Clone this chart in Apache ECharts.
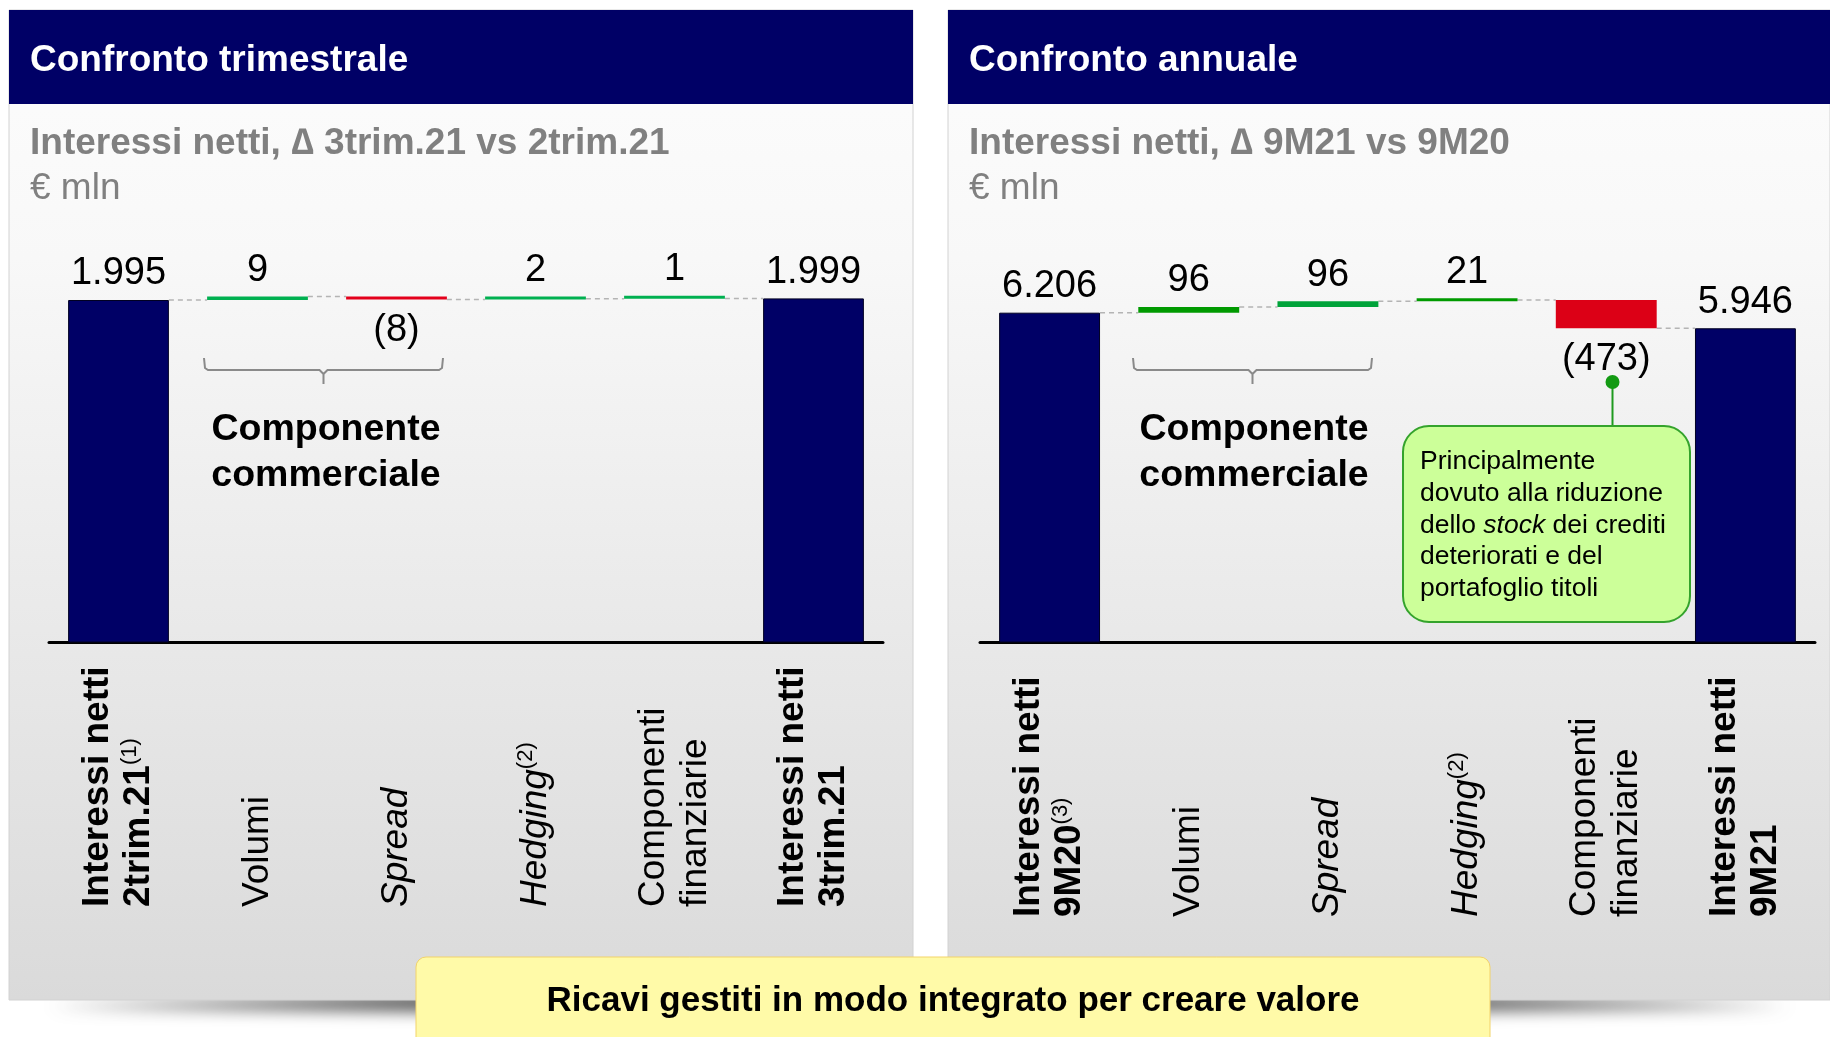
<!DOCTYPE html>
<html>
<head>
<meta charset="utf-8">
<script src="https://cdn.jsdelivr.net/npm/echarts@6/dist/echarts.min.js"></script>
<style>
  html, body { margin: 0; padding: 0; background: #fff; }
  #chart { width: 1830px; height: 1037px; }
</style>
</head>
<body>
<div id="chart"></div>
<script>
const FONT = "'Liberation Sans', Arial, sans-serif";

// Confronto trimestrale
const catsQ = ['Interessi netti\n2trim.21', 'Volumi', 'Spread', 'Hedging', 'Componenti\nfinanziarie', 'Interessi netti\n3trim.21'];
const notesQ = ['(1)', '', '', '(2)', '', ''];
const valsQ = [1995, 9, -8, 2, 1, 1999];

// Confronto annuale
const catsY = ['Interessi netti\n9M20', 'Volumi', 'Spread', 'Hedging', 'Componenti\nfinanziarie', 'Interessi netti\n9M21'];
const notesY = ['(3)', '', '', '(2)', '', ''];
const valsY = [6206, 96, 96, 21, -473, 5946];

// label style per category: b = bold, n = normal, i = italic
const catStyle = ['b', 'n', 'i', 'i', 'n', 'b'];

const colorsQ = ['#000066', '#00b050', '#e3001b', '#00b050', '#00b050', '#000066'];
const colorsY = ['#000066', '#009a00', '#00a33a', '#009a00', '#dc0016', '#000066'];

function fmtNum(v) {
    return String(v).replace(/\B(?=(\d{3})+(?!\d))/g, '.');
}

function build(vals) {
    let run = 0;
    const base = [], size = [], level = [];
    vals.forEach((v, i) => {
        if (i === 0 || i === vals.length - 1) { base.push(0); size.push(v); run = v; }
        else if (v >= 0) { base.push(run); size.push(v); run += v; }
        else { run += v; base.push(run); size.push(-v); }
        level.push(run);
    });
    return { base, size, level };
}

function catLabel(cats, notes) {
    return (value, idx) => {
        const st = catStyle[idx];
        const lines = cats[idx].split('\n').map(l => `{${st}|${l}}`);
        if (notes[idx]) lines[lines.length - 1] += `{sup|${notes[idx]}}`;
        return lines.join('\n');
    };
}

const labelRich = {
    b: { fontFamily: FONT, fontSize: 37, fontWeight: 'bold', color: '#000', lineHeight: 41 },
    n: { fontFamily: FONT, fontSize: 37, color: '#000', lineHeight: 42 },
    i: { fontFamily: FONT, fontSize: 37, fontStyle: 'italic', color: '#000', lineHeight: 42 },
    sup: { fontFamily: FONT, fontSize: 22, color: '#000', lineHeight: 26, verticalAlign: 'top' }
};

function seriesFor(k, vals, colors) {
    const w = build(vals);
    const last = vals.length - 1;
    return [
        {
            type: 'bar', stack: 'w' + k, xAxisIndex: k, yAxisIndex: k,
            barWidth: '72.5%', silent: true,
            itemStyle: { color: 'transparent' },
            data: w.base
        },
        {
            type: 'bar', stack: 'w' + k, xAxisIndex: k, yAxisIndex: k,
            barWidth: '72.5%', barMinHeight: 3,
            label: {
                show: true, fontFamily: FONT, fontSize: 38, color: '#000', distance: 7,
                formatter: p => vals[p.dataIndex] < 0 ? '(' + fmtNum(-vals[p.dataIndex]) + ')' : fmtNum(vals[p.dataIndex])
            },
            data: w.size.map((s, i) => ({
                value: s,
                itemStyle: (i === 0 || i === last)
                    ? { color: colors[i], borderColor: '#000022', borderWidth: 1 }
                    : { color: colors[i] },
                label: vals[i] < 0 ? { position: 'bottom', distance: 12 } : { position: 'top' }
            }))
        },
        {
            type: 'custom', xAxisIndex: k, yAxisIndex: k, silent: true, z: 1,
            data: w.level.slice(0, last).map((l, i) => [i, l]),
            renderItem: (params, api) => {
                const p = api.coord([api.value(0), api.value(1)]);
                const band = api.size([1, 0])[0];
                const half = band * 0.725 / 2;
                return {
                    type: 'line',
                    shape: { x1: p[0] + half, y1: p[1], x2: p[0] + band - half, y2: p[1] },
                    style: { stroke: '#b4b4b4', lineWidth: 1.5, lineDash: [5, 4] }
                };
            }
        }
    ];
}

function xAxisFor(k, cats, notes, margin) {
    return {
        type: 'category', gridIndex: k, data: cats,
        axisLine: { lineStyle: { color: '#000', width: 3 } },
        axisTick: { show: false },
        axisLabel: {
            interval: 0, rotate: 90, margin: margin,
            align: 'left', verticalAlign: 'middle',
            formatter: catLabel(cats, notes),
            rich: labelRich
        }
    };
}

function txt(x, y, text, font, fill, align) {
    return {
        type: 'text', z: 10,
        style: {
            x: x, y: y, text: text, font: font, fill: fill,
            align: align || 'left', textAlign: align || 'left',
            verticalAlign: 'middle', textVerticalAlign: 'middle'
        }
    };
}

// soft shadow: the shape itself sits behind the panel, only its blur shows below
function shadow(x1, x2) {
    const c = (x1 + x2) / 2;
    return {
        type: 'polygon', z: -8,
        shape: { points: [[x1 + 40, 992], [c - 200, 986], [c, 980], [c + 200, 986], [x2 - 40, 992], [c, 997]] },
        style: { fill: '#777', shadowBlur: 16, shadowOffsetY: 14, shadowColor: 'rgba(0,0,0,0.75)' }
    };
}

function panel(x, w, title, subtitle) {
    return [
        shadow(x, x + w),
        {
            type: 'rect', z: -5,
            shape: { x: x, y: 10, width: w, height: 990 },
            style: {
                fill: new echarts.graphic.LinearGradient(0, 0, 0, 1, [
                    { offset: 0, color: '#fdfdfd' },
                    { offset: 0.25, color: '#f8f8f8' },
                    { offset: 1, color: '#dadada' }
                ]),
                stroke: '#d2d2d2', lineWidth: 1
            }
        },
        { type: 'rect', z: -4, shape: { x: x, y: 10, width: w, height: 94 }, style: { fill: '#000066' } },
        txt(x + 21, 61, title, 'bold 37px ' + FONT, '#fff'),
        txt(x + 21, 144, subtitle, 'bold 37px ' + FONT, '#808080'),
        txt(x + 21, 189, '€ mln', '37px ' + FONT, '#808080')
    ];
}

function brace(x1, x2, yTop, yMid, yTip) {
    const c = (x1 + x2) / 2;
    return {
        type: 'polyline', z: 5,
        shape: {
            points: [[x1, yTop], [x1 + 1, yMid - 2], [x1 + 4, yMid], [c - 4, yMid], [c, yMid + 4], [c, yTip],
                     [c, yMid + 4], [c + 4, yMid], [x2 - 4, yMid], [x2 - 1, yMid - 2], [x2, yTop]]
        },
        style: { stroke: '#8a8a8a', lineWidth: 2, fill: null }
    };
}

const chart = echarts.init(document.getElementById('chart'));

chart.setOption({
    backgroundColor: '#fff',
    animation: false,
    grid: [
        { left: 49, top: 250, width: 834, height: 392, containLabel: false, outerBoundsMode: 'none' },
        { left: 980, top: 250, width: 835, height: 392, containLabel: false, outerBoundsMode: 'none' }
    ],
    xAxis: [
        xAxisFor(0, catsQ, notesQ, 265),
        xAxisFor(1, catsY, notesY, 275)
    ],
    yAxis: [
        { type: 'value', gridIndex: 0, min: 1140, max: 2120, show: false },
        { type: 'value', gridIndex: 1, min: 720, max: 7250, show: false }
    ],
    series: [].concat(seriesFor(0, valsQ, colorsQ), seriesFor(1, valsY, colorsY)),
    graphic: [
        ...panel(9, 904, 'Confronto trimestrale', 'Interessi netti, \u2206 3trim.21 vs 2trim.21'),
        ...panel(948, 882, 'Confronto annuale', 'Interessi netti, \u2206 9M21 vs 9M20'),

        brace(204, 443, 358, 370, 384),
        txt(326, 430, 'Componente', 'bold 37.5px ' + FONT, '#000', 'center'),
        txt(326, 476, 'commerciale', 'bold 37.5px ' + FONT, '#000', 'center'),
        brace(1133, 1372, 358, 370, 384),
        txt(1254, 430, 'Componente', 'bold 37.5px ' + FONT, '#000', 'center'),
        txt(1254, 476, 'commerciale', 'bold 37.5px ' + FONT, '#000', 'center'),

        // callout
        {
            type: 'line', z: 6,
            shape: { x1: 1612.5, y1: 382, x2: 1612.5, y2: 426 },
            style: { stroke: '#1f9a1f', lineWidth: 2 }
        },
        { type: 'circle', z: 7, shape: { cx: 1612.5, cy: 382, r: 7 }, style: { fill: '#139a13' } },
        {
            type: 'rect', z: 6,
            shape: { x: 1403, y: 426, width: 287, height: 196, r: 26 },
            style: { fill: '#ccff99', stroke: '#34a32c', lineWidth: 2 }
        },
        {
            type: 'text', z: 8,
            style: {
                x: 1420, y: 446,
                text: 'Principalmente\ndovuto alla riduzione\ndello {i|stock} dei crediti\ndeteriorati e del\nportafoglio titoli',
                font: '26.5px ' + FONT, fill: '#000', lineHeight: 31.7,
                align: 'left', textAlign: 'left', verticalAlign: 'top', textVerticalAlign: 'top',
                rich: { i: { fontFamily: FONT, fontSize: 26.5, fontStyle: 'italic', fill: '#000', color: '#000', lineHeight: 31.7 } }
            }
        },

        // bottom banner
        {
            type: 'rect', z: 20,
            shape: { x: 416, y: 957, width: 1074, height: 95, r: 10 },
            style: { fill: '#fffaa8', stroke: '#f2d36a', lineWidth: 1 }
        },
        Object.assign(txt(953, 1001, 'Ricavi gestiti in modo integrato per creare valore', 'bold 35px ' + FONT, '#000', 'center'), { z: 21 })
    ]
});
</script>
</body>
</html>
